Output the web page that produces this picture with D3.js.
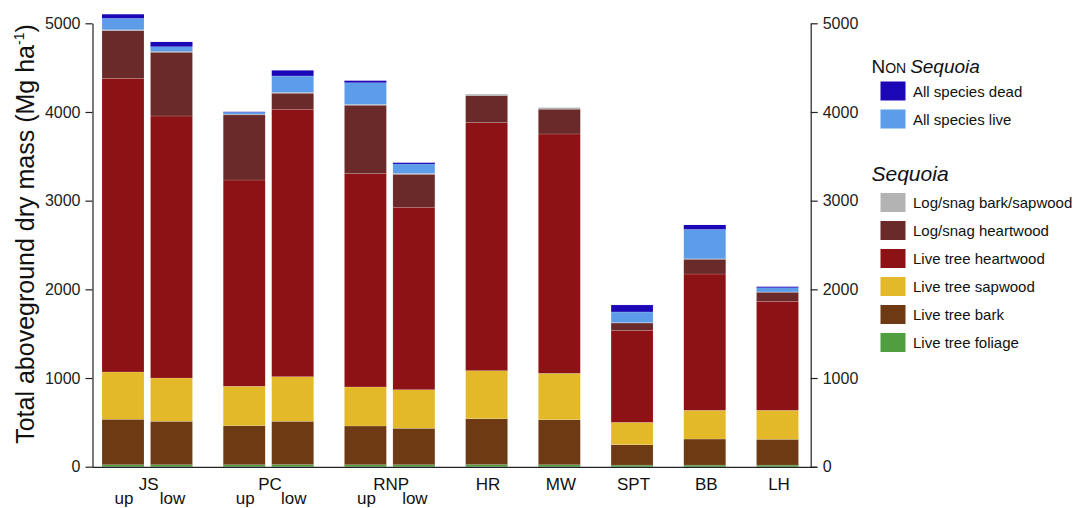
<!DOCTYPE html>
<html>
<head>
<meta charset="utf-8">
<script src="https://cdn.jsdelivr.net/npm/d3@7"></script>
<style>
  html, body { margin: 0; padding: 0; background: #fff; }
  svg { display: block; font-family: "Liberation Sans", Arial, Helvetica, sans-serif; }
</style>
</head>
<body>
<svg id="chart" width="1076" height="508"></svg>
<script>
// Stands: site and slope position (up / low where sampled twice)
const bars = ["JS up", "JS low", "PC up", "PC low", "RNP up", "RNP low", "HR", "MW", "SPT", "BB", "LH"];

// Aboveground dry mass components, Mg ha-1 (stacked bottom to top)
const liveFoliage   = [22, 22, 22, 24, 22, 22, 24, 22, 18, 18, 18];
const liveBark      = [513, 490, 440, 488, 437, 411, 517, 508, 230, 294, 291];
const liveSapwood   = [533, 488, 445, 503, 440, 435, 542, 523, 252, 324, 327];
const liveHeartwood = [3312, 2955, 2326, 3016, 2406, 2058, 2797, 2699, 1038, 1537, 1229];
const logHeartwood  = [537, 718, 733, 180, 771, 371, 304, 279, 82, 166, 102];
const logBarkSap    = [10, 10, 10, 10, 10, 10, 16, 18, 5, 5, 5];
const nonSeqLive    = [130, 54, 21, 185, 245, 107, 0, 0, 120, 333, 47];
const nonSeqDead    = [45, 53, 5, 64, 22, 14, 0, 0, 79, 49, 11];

const yTicks = [0, 1000, 2000, 3000, 4000, 5000];

const seriesDefs = [
  { key: "foliage",   label: "Live tree foliage",        color: "#4f9e3f", values: liveFoliage },
  { key: "bark",      label: "Live tree bark",           color: "#6e3a14", values: liveBark },
  { key: "sapwood",   label: "Live tree sapwood",        color: "#e3b829", values: liveSapwood },
  { key: "heartwood", label: "Live tree heartwood",      color: "#8d1216", values: liveHeartwood },
  { key: "logHeart",  label: "Log/snag heartwood",       color: "#6b2a2a", values: logHeartwood },
  { key: "logBark",   label: "Log/snag bark/sapwood",    color: "#b3b3b3", values: logBarkSap },
  { key: "nsLive",    label: "All species live",         color: "#5c9ce8", values: nonSeqLive },
  { key: "nsDead",    label: "All species dead",         color: "#1c07b6", values: nonSeqDead }
];

const table = bars.map((name, i) => {
  const row = { name };
  seriesDefs.forEach(s => { row[s.key] = s.values[i]; });
  return row;
});

const svg = d3.select("#chart");

// Slot layout: two slots between bars of one site, three between sites
let slot = -3, prevSite = null;
const slotOf = bars.map(name => {
  const site = name.split(" ")[0];
  slot += (site === prevSite) ? 2 : 3;
  prevSite = site;
  return slot;
});
const slotIndex = new Map(bars.map((b, i) => [b, slotOf[i]]));

const x = d3.scaleLinear().domain([0, d3.max(slotOf)]).range([123, 777.5]);
const barW = 42;
const y = d3.scaleLinear().domain([0, 5000]).range([466.7, 23.3]);

const stack = d3.stack().keys(seriesDefs.map(s => s.key));
const stacked = stack(table);

const colorOf = new Map(seriesDefs.map(s => [s.key, s.color]));

svg.append("g")
  .selectAll("g")
  .data(stacked)
  .join("g")
    .attr("fill", d => colorOf.get(d.key))
  .selectAll("rect")
  .data(d => d)
  .join("rect")
    .attr("x", d => x(slotIndex.get(d.data.name)) - barW / 2)
    .attr("width", barW)
    .attr("y", d => y(d[1]))
    .attr("height", d => Math.max(0, y(d[0]) - y(d[1])))
    .attr("stroke", d => d[1] - d[0] > 60 ? "#ffffff" : "none")
    .attr("stroke-opacity", 0.3)
    .attr("stroke-width", 0.5);

// Axes
const axisColor = "#222";
const xLeft = 92.5, xRight = 810.7;

const left = svg.append("g")
  .attr("transform", `translate(${xLeft},0)`)
  .call(d3.axisLeft(y).tickValues(yTicks).tickFormat(d3.format("d")).tickSize(7).tickSizeOuter(0).tickPadding(5));
const right = svg.append("g")
  .attr("transform", `translate(${xRight},0)`)
  .call(d3.axisRight(y).tickValues(yTicks).tickFormat(d3.format("d")).tickSize(7).tickSizeOuter(0).tickPadding(5));

[left, right].forEach(g => {
  g.selectAll("path, line").attr("stroke", axisColor).attr("stroke-width", 1.2);
  g.selectAll("text").attr("fill", "#222").style("font-size", "16px")
    .style("font-family", "'Liberation Sans', Arial, sans-serif");
});

// Baseline
svg.append("line")
  .attr("x1", xLeft).attr("x2", xRight + 6)
  .attr("y1", y(0) + 0.6).attr("y2", y(0) + 0.6)
  .attr("stroke", axisColor).attr("stroke-width", 1.3);

// Site labels
const sites = Array.from(d3.group(bars.map((b, i) => ({ site: b.split(" ")[0], pos: b.split(" ")[1], s: slotOf[i] })), d => d.site));
sites.forEach(([site, members]) => {
  const cx = d3.mean(members, m => x(m.s)) + 1.5;
  svg.append("text")
    .attr("x", cx).attr("y", 490)
    .attr("text-anchor", "middle")
    .style("font-size", "17px").attr("fill", "#111")
    .text(site);
  members.filter(m => m.pos).forEach(m => {
    svg.append("text")
      .attr("x", x(m.s) + 1).attr("y", 503.5)
      .attr("text-anchor", "middle")
      .style("font-size", "17px").attr("fill", "#111")
      .text(m.pos);
  });
});

// Y axis title
const yTitle = svg.append("text")
  .attr("transform", "translate(34,234) rotate(-90)")
  .attr("text-anchor", "middle")
  .style("font-size", "25px").attr("fill", "#111");
yTitle.append("tspan").text("Total aboveground dry mass (Mg ha");
yTitle.append("tspan").attr("dy", -10).style("font-size", "14px").text("-1");
yTitle.append("tspan").attr("dy", 10).text(")");

// Legend
const legend = svg.append("g");
const nonTitle = legend.append("text").attr("x", 871.5).attr("y", 72.5).attr("fill", "#111");
nonTitle.append("tspan").style("font-size", "19px").text("N");
nonTitle.append("tspan").style("font-size", "14px").text("ON ");
nonTitle.append("tspan").style("font-size", "19px").style("font-style", "italic").text("Sequoia");

const nonItems = ["nsDead", "nsLive"];
const seqItems = ["logBark", "logHeart", "heartwood", "sapwood", "bark", "foliage"];
const defByKey = new Map(seriesDefs.map(s => [s.key, s]));

function legendItem(key, cy) {
  const def = defByKey.get(key);
  legend.append("rect")
    .attr("x", 880.5).attr("y", cy - 9.5)
    .attr("width", 25).attr("height", 19)
    .attr("fill", def.color);
  legend.append("text")
    .attr("x", 913).attr("y", cy)
    .attr("dominant-baseline", "central")
    .style("font-size", "15px").attr("fill", "#111")
    .text(def.label);
}
nonItems.forEach((k, i) => legendItem(k, 91 + i * 28));

legend.append("text").attr("x", 871.5).attr("y", 181)
  .style("font-size", "21px").style("font-style", "italic").attr("fill", "#111")
  .text("Sequoia");
seqItems.forEach((k, i) => legendItem(k, 202.5 + i * 28));
</script>
</body>
</html>
